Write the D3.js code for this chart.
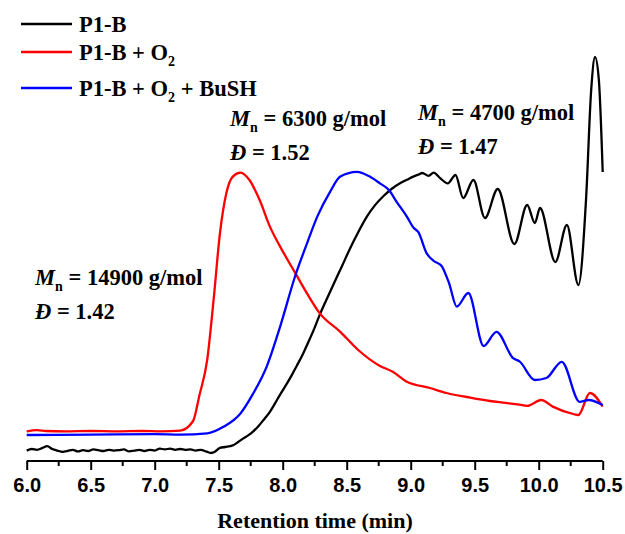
<!DOCTYPE html>
<html>
<head>
<meta charset="utf-8">
<script src="https://cdn.jsdelivr.net/npm/d3@7"></script>
<style>
  body { margin: 0; background: #fff; }
  svg { display: block; }
  .serif { font-family: "Liberation Serif", "Times New Roman", serif; font-weight: bold; }
  .axis text { font-family: "Liberation Sans", Arial, sans-serif; font-weight: bold; font-size: 20px; }
</style>
</head>
<body>
<svg id="chart" width="625" height="534"></svg>
<script>
// retention time (min) and detector signal (arb. units)
var timeBlack = [6.00, 6.04, 6.08, 6.12, 6.16, 6.20, 6.24, 6.28, 6.32, 6.36, 6.40, 6.44, 6.48, 6.52, 6.56, 6.60, 6.64, 6.68, 6.72, 6.76,
  6.80, 6.84, 6.88, 6.92, 6.96, 7.00, 7.04, 7.08, 7.12, 7.16, 7.20, 7.24, 7.28, 7.32, 7.36, 7.40, 7.44, 7.47,
  7.51, 7.55, 7.61, 7.65, 7.69, 7.73, 7.77, 7.81, 7.85, 7.90, 7.94, 7.98, 8.03, 8.07, 8.11, 8.16, 8.20, 8.24, 8.29, 8.34,
  8.40, 8.46, 8.53, 8.59, 8.66, 8.72, 8.79, 8.85, 8.92, 8.97, 9.02, 9.06, 9.09, 9.14, 9.18, 9.23, 9.29,
  9.35, 9.41, 9.49, 9.58, 9.68, 9.81, 9.91, 9.97, 10.01, 10.13, 10.22, 10.31, 10.37, 10.41, 10.44, 10.47, 10.50];
var signalBlack = [2.6, 3.0, 2.8, 3.2, 3.7, 3.0, 2.6, 2.3, 2.5, 2.8, 2.4, 2.7, 2.5, 2.9, 2.7, 2.5, 2.8, 2.6, 2.7, 2.9,
  2.4, 2.6, 2.8, 2.5, 2.8, 2.6, 3.1, 2.9, 3.1, 2.8, 3.0, 2.8, 2.9, 2.6, 2.8, 2.4, 2.0, 2.3,
  3.3, 3.5, 3.9, 4.7, 5.6, 6.4, 7.4, 8.7, 10.25, 12.3, 14.4, 16.6, 19.2, 21.4, 23.8, 26.9, 29.7, 32.6, 36.6, 40.2,
  44.4, 48.5, 53.4, 57.2, 61.2, 63.9, 66.3, 68.0, 69.5, 70.3, 71.1, 71.6, 72.0, 71.3, 72.1, 70.7, 69.4,
  71.5, 65.75, 70.25, 60.75, 68, 54.25, 64, 59.5, 63.25, 49.75, 59, 44, 65.5, 92.75, 101, 95.25, 72.25];

var timeRed = [6.00, 6.08, 6.15, 6.30, 6.50, 6.70, 6.90, 7.05, 7.20, 7.30, 7.35, 7.41, 7.46, 7.51, 7.56, 7.61, 7.67, 7.74, 7.82, 7.90,
  7.98, 8.10, 8.19, 8.29, 8.45, 8.59, 8.76, 8.86, 8.97, 9.15, 9.28, 9.44, 9.62, 9.72, 9.85, 9.91, 10.02, 10.11, 10.27, 10.31,
  10.40, 10.50];
var signalRed = [7.4, 7.7, 7.5, 7.4, 7.5, 7.4, 7.5, 7.4, 7.6, 10.0, 16.5, 25.25, 40.25, 57, 67, 71.1, 72.1, 70.25, 65.25, 58.6,
  53.6, 46.9, 41.9, 36.9, 32.3, 27.75, 23.75, 22.3, 19.8, 18.25, 17, 16, 15.0, 14.6, 14.1, 13.8, 15.25, 13.6, 11.75, 11.5,
  17, 13.6];

var timeBlue = [6.00, 6.50, 7.00, 7.20, 7.41, 7.54, 7.67, 7.77, 7.875, 7.98, 8.10, 8.19, 8.27, 8.37, 8.45, 8.58, 8.68, 8.76, 8.83, 8.89,
  8.97, 9.02, 9.06, 9.125, 9.18, 9.24, 9.30, 9.36, 9.45, 9.57, 9.67, 9.80, 9.85, 9.97, 10.06, 10.18, 10.32, 10.39, 10.50];
var signalBlue = [6.5, 6.6, 6.7, 6.6, 6.9, 8.6, 11.9, 16.9, 23.6, 33.6, 46.5, 54.4, 61.1, 67.3, 71.1, 72.3, 71.1, 69.4, 67.75, 64.8,
  61.1, 58.4, 57.2, 51.9, 50.0, 48.8, 44.4, 38.6, 42, 28.75, 32.3, 25.7, 24.9, 20.25, 20.75, 24.8, 14.8, 15.25, 14];

var seriesNames = ["P1-B", "P1-B + O2", "P1-B + O2 + BuSH"];
var seriesColors = ["#000000", "#ff0000", "#0000ff"];
var majorTicks = [6.0, 6.5, 7.0, 7.5, 8.0, 8.5, 9.0, 9.5, 10.0, 10.5];
var minorTicks = [6.25, 6.75, 7.25, 7.75, 8.25, 8.75, 9.25, 9.75, 10.25];

var svg = d3.select("#chart");

var x = d3.scaleLinear().domain([6, 10.5]).range([26.7, 602.7]);
var y = d3.scaleLinear().domain([0, 100]).range([461, 61]);

function zip(t, s) { return t.map(function (d, i) { return [d, s[i]]; }); }
var series = [zip(timeBlack, signalBlack), zip(timeRed, signalRed), zip(timeBlue, signalBlue)];

var line = d3.line()
  .x(function (d) { return x(d[0]); })
  .y(function (d) { return y(d[1]); })
  .curve(d3.curveMonotoneX);

[0, 1, 2].forEach(function (i) {
  svg.append("path")
    .datum(series[i])
    .attr("d", line)
    .attr("fill", "none")
    .attr("stroke", seriesColors[i])
    .attr("stroke-width", 2.3)
    .attr("stroke-linejoin", "round");
});

// x axis
var axis = svg.append("g")
  .attr("class", "axis")
  .attr("transform", "translate(0," + y(0) + ")")
  .call(d3.axisBottom(x).tickValues(majorTicks).tickSize(9).tickPadding(8).tickFormat(d3.format(".1f")));
axis.select(".domain").attr("stroke-width", 2.2).attr("d", "M" + x(6) + ",0H" + x(10.5));
axis.selectAll(".tick line").attr("stroke-width", 2);

axis.selectAll(".minor")
  .data(minorTicks)
  .enter().append("line")
  .attr("class", "minor")
  .attr("x1", function (d) { return x(d); })
  .attr("x2", function (d) { return x(d); })
  .attr("y1", 0).attr("y2", 5)
  .attr("stroke", "#000")
  .attr("stroke-width", 2);

svg.append("text")
  .attr("class", "serif")
  .attr("x", 315).attr("y", 528)
  .attr("text-anchor", "middle")
  .style("font-size", "22px")
  .text("Retention time (min)");

// legend
var legendY = [24, 52, 88];
var lg = svg.selectAll("g.legend")
  .data(seriesNames)
  .enter().append("g")
  .attr("class", "legend");

lg.append("line")
  .attr("x1", 21).attr("x2", 72)
  .attr("y1", function (d, i) { return legendY[i]; })
  .attr("y2", function (d, i) { return legendY[i]; })
  .attr("stroke", function (d, i) { return seriesColors[i]; })
  .attr("stroke-width", 2.5);

lg.each(function (d, i) {
  var t = d3.select(this).append("text")
    .attr("class", "serif")
    .attr("x", 79).attr("y", legendY[i] + 8)
    .style("font-size", "22.5px");
  var parts = d.split("O2");
  t.append("tspan").text(parts[0] + (parts.length > 1 ? "O" : ""));
  if (parts.length > 1) {
    t.append("tspan").attr("dy", 6).style("font-size", "14px").text("2");
    t.append("tspan").attr("dy", -6).text(parts[1]);
  }
});

// annotations
var notes = [
  { x: 35, y: 285, mn: "14900", disp: "1.42" },
  { x: 230, y: 126, mn: "6300", disp: "1.52" },
  { x: 418, y: 120, mn: "4700", disp: "1.47" }
];

notes.forEach(function (n) {
  var t1 = svg.append("text").attr("class", "serif").attr("x", n.x).attr("y", n.y).style("font-size", "22.5px");
  t1.append("tspan").style("font-style", "italic").text("M");
  t1.append("tspan").attr("dy", 6).style("font-size", "14px").text("n");
  t1.append("tspan").attr("dy", -6).text(" = " + n.mn + " g/mol");

  var t2 = svg.append("text").attr("class", "serif").attr("x", n.x).attr("y", n.y + 34).style("font-size", "22.5px");
  t2.append("tspan").style("font-style", "italic").text("\u0110");
  t2.append("tspan").text(" = " + n.disp);
});
</script>
</body>
</html>
